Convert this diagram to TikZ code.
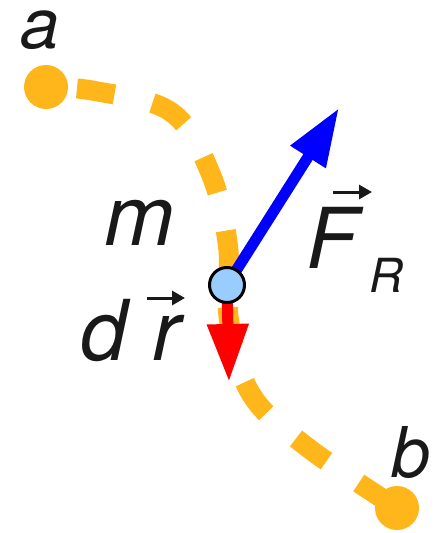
\documentclass[tikz,border=0pt]{standalone}
\usepackage{fontspec}
\setmainfont{TeX Gyre Heros}
\usetikzlibrary{
  positioning,
  arrows.meta,
  calc
}
\definecolor{pathorange}{RGB}{255,182,26}
\definecolor{massblue}{RGB}{153,204,255}

\begin{document}
\begin{tikzpicture}[
    x=1pt, y=-1pt,
    % point styles
    dot/.style={circle, fill=pathorange, inner sep=0pt, minimum size=44pt},
    mass/.style={circle, draw=black, line width=3pt, fill=massblue, inner sep=0pt, minimum size=35pt},
    % label styles
    lbl/.style={inner sep=0pt, anchor=base, text=black!90, font=\fontsize{70}{80}\selectfont\itshape},
    biglbl/.style={lbl, font=\fontsize{84}{96}\selectfont\itshape},
    sublbl/.style={lbl, font=\fontsize{47}{54}\selectfont\itshape},
    % line styles
    traj/.style={line width=20pt, draw=pathorange, dash pattern=on 38pt off 39pt, dash phase=46pt},
    forcearr/.style={-{Triangle[length=58pt,width=39pt]}, line width=11pt, draw=blue},
    disparr/.style={forcearr, draw=red},
    vecarr/.style={-{Triangle[length=13pt,width=14pt]}, line width=3pt, draw=black!90}
]
\useasboundingbox (0,0) rectangle (445,533);

% --- End points and mass position ---
\coordinate (mpos) at (227,285);
\coordinate (Ftip) at (339,108);
\coordinate (rtip) at (229,382);

% --- Trajectory ---
\draw[traj] plot[smooth, tension=0.6] coordinates {(46,87) (95,91) (171,112) (210,172) (228,246) (229,320) (251,394) (307,447) (397,508)};
\node[dot] (pa) at (46,87) {};
\node[dot] (pb) at (397,508) {};

% --- Force and displacement ---
\draw[forcearr] (mpos) -- (Ftip);
\draw[disparr] (mpos) -- (rtip);
\node[mass] (mass) at (mpos) {};

% --- Labels ---
\node[lbl] (alab) at (40,48) {a};
\node[lbl] (blab) at (411,477) {b};
\node[biglbl] (mlab) at (139,245) {m};
\node[biglbl] (dlab) at (104,360) {d};
\node[biglbl] (rlab) at (166,360) {r};
\node[biglbl] (Flab) at (332,268) {F};
\node[sublbl] (Rlab) at (386,292) {R};
\draw[vecarr] ($(rlab.base)+(-19,-62)$) -- ($(rlab.base)+(19,-62)$);
\draw[vecarr] ($(Flab.base)+(1,-76)$) -- ($(Flab.base)+(40,-76)$);

\end{tikzpicture}
\end{document}
